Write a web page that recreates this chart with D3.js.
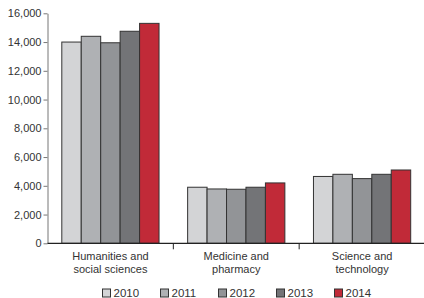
<!DOCTYPE html>
<html>
<head>
<meta charset="utf-8">
<script src="https://cdn.jsdelivr.net/npm/d3@7"></script>
<style>
    body { margin: 0; background: #fff; }
    text { font-family: "Liberation Sans", Arial, sans-serif; fill: #333; }
</style>
</head>
<body>
<script>
(function(){
    // chart data
    var categories = [["Humanities and", "social sciences"], ["Medicine and", "pharmacy"], ["Science and", "technology"]];
    var years = ["2010", "2011", "2012", "2013", "2014"];
    var values = {
        "2010": [14000, 3900, 4650],
        "2011": [14400, 3780, 4800],
        "2012": [13950, 3760, 4500],
        "2013": [14750, 3900, 4800],
        "2014": [15300, 4200, 5100]
    };
    var yTicks = [0, 2000, 4000, 6000, 8000, 10000, 12000, 14000, 16000];
    var colors = ["#d3d4d6", "#afb1b4", "#929497", "#737477", "#c12a38"];

    var width = 424, height = 298;
    var left = 47.5, right = 425, top = 13.3, bottom = 243.3;

    var svg = d3.select("body")
        .append("svg")
        .attr("width", width)
        .attr("height", height);

    var x0 = d3.scaleBand()
        .domain(d3.range(categories.length))
        .range([left, right])
        .paddingInner(0)
        .paddingOuter(0);

    var x1 = d3.scaleBand()
        .domain(years)
        .range([14.3, x0.bandwidth() - 14.3]);

    var y = d3.scaleLinear()
        .domain([0, 16000])
        .range([bottom, top]);

    // bars
    var groups = svg.selectAll(".group")
        .data(categories)
        .enter()
        .append("g")
        .attr("class", "group")
        .attr("transform", (d, i) => "translate(" + x0(i) + ",0)");

    groups.selectAll("rect")
        .data((d, i) => years.map(function(yr, j){ return {year: yr, value: values[yr][i], color: colors[j]}; }))
        .enter()
        .append("rect")
        .attr("x", d => x1(d.year))
        .attr("width", x1.bandwidth())
        .attr("y", d => y(d.value))
        .attr("height", d => bottom - y(d.value))
        .attr("fill", d => d.color)
        .attr("stroke", "#333")
        .attr("stroke-width", 1);

    // y axis
    var yAxis = svg.append("g")
        .attr("transform", "translate(" + left + ",0)")
        .call(d3.axisLeft(y).tickValues(yTicks).tickSize(4).tickSizeOuter(0).tickFormat(d3.format(",")));
    yAxis.select(".domain").attr("stroke", "#777");
    yAxis.selectAll(".tick line").attr("stroke", "#777");
    yAxis.selectAll("text")
        .attr("font-size", 11)
        .attr("x", -6)
        .style("font-family", "Liberation Sans, Arial, sans-serif")
        .attr("fill", "#333");

    // x axis
    svg.append("line")
        .attr("x1", left).attr("x2", right)
        .attr("y1", bottom).attr("y2", bottom)
        .attr("stroke", "#222")
        .attr("stroke-width", 1.2);

    svg.selectAll(".cattick")
        .data(d3.range(1, categories.length))
        .enter()
        .append("line")
        .attr("x1", d => x0(d)).attr("x2", d => x0(d))
        .attr("y1", bottom).attr("y2", bottom + 6)
        .attr("stroke", "#222");

    // category labels
    var labels = svg.selectAll(".catlabel")
        .data(categories)
        .enter()
        .append("text")
        .attr("class", "catlabel")
        .attr("text-anchor", "middle")
        .attr("font-size", 11)
        .attr("transform", (d, i) => "translate(" + (x0(i) + x0.bandwidth() / 2) + ",260)");
    labels.selectAll("tspan")
        .data(d => d)
        .enter()
        .append("tspan")
        .attr("x", 0)
        .attr("dy", (d, i) => i ? 12.5 : 0)
        .text(d => d);

    // legend
    var legend = svg.selectAll(".legend")
        .data(years)
        .enter()
        .append("g")
        .attr("class", "legend")
        .attr("transform", (d, i) => "translate(" + (102.5 + i * 58) + ",289)");
    legend.append("rect")
        .attr("width", 8)
        .attr("height", 8)
        .attr("fill", (d, i) => colors[i])
        .attr("stroke", "#333");
    legend.append("text")
        .attr("x", 11)
        .attr("y", 8)
        .attr("font-size", 11.5)
        .text(d => d);
})();
</script>
</body>
</html>
